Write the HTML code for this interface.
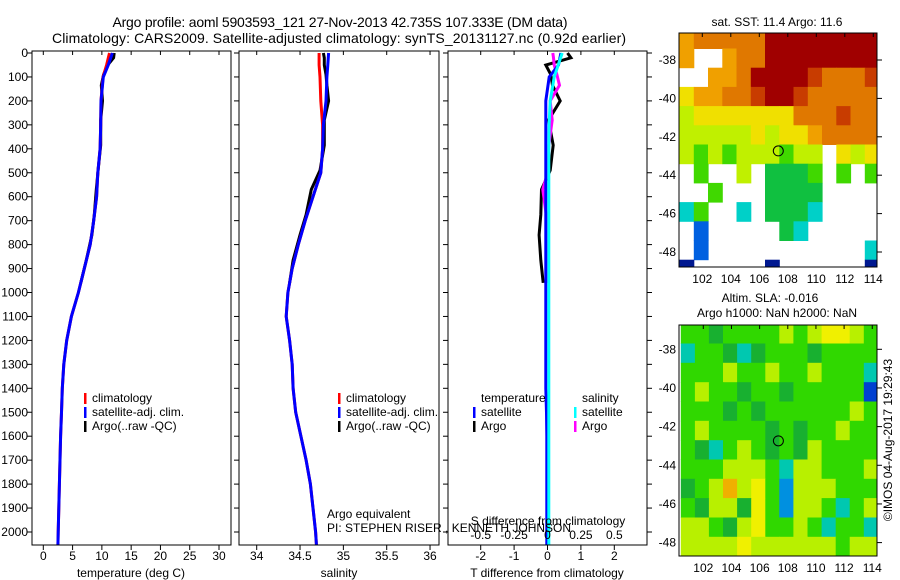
<!DOCTYPE html>
<html><head><meta charset="utf-8"><style>
html,body{margin:0;padding:0;background:#fff;}
svg{display:block;font-family:"Liberation Sans",Arial,sans-serif;}
</style></head><body>
<svg id="fig" width="900" height="580" viewBox="0 0 900 580" xmlns="http://www.w3.org/2000/svg">
<text x="340" y="27" font-size="14" text-anchor="middle" textLength="455">Argo profile: aoml 5903593_121 27-Nov-2013 42.735S 107.333E (DM data)</text>
<text x="339" y="43" font-size="14" text-anchor="middle" textLength="574">Climatology: CARS2009. Satellite-adjusted climatology: synTS_20131127.nc (0.92d earlier)</text>
<g id="plots"></g>
</svg>
<script>
// ---- profile data ----
const depthT = [0,50,100,200,300,400,500,600,700,800,900,1000,1100,1200,1300,1400,1500,1600,1700,1800,1900,2000,2058];
const tempSat = [11.8,11.1,10.25,9.85,9.8,9.7,9.3,9.1,8.6,8.0,7.0,6.0,4.8,4.0,3.5,3.25,3.1,2.95,2.85,2.75,2.65,2.55,2.5];
const tempClim = [11.3,10.8,10.2,9.85,9.8,9.7,9.3,9.1,8.6,8.0,7.0,6.0,4.8,4.0,3.5,3.25,3.1,2.95,2.85,2.75,2.65,2.55,2.5];
const depthArgo = [0,20,50,90,135,200,280,385,490,570,675,760,865,960];
const tempArgo = [12.1,12.0,11.0,10.3,9.9,10.1,9.8,9.8,9.35,9.05,8.7,8.3,7.35,6.4];
const salSat = [34.83,34.82,34.81,34.80,34.77,34.76,34.74,34.65,34.56,34.48,34.41,34.36,34.34,34.38,34.41,34.42,34.45,34.51,34.57,34.62,34.65,34.68,34.69];
const salClim = [34.72,34.72,34.73,34.74,34.76,34.76,34.74,34.65,34.56,34.48,34.41,34.36,34.34,34.38,34.41,34.42,34.45,34.51,34.57,34.62,34.65,34.68,34.69];
const salArgo = [34.77,34.78,34.78,34.80,34.81,34.83,34.78,34.78,34.73,34.63,34.57,34.50,34.42,34.38];
// difference panel
const dTsat = [0.4,0.33,0.05,-0.05,-0.05,-0.05,-0.05,-0.05,-0.05,-0.05,-0.05,-0.05,-0.05,-0.05,-0.05,-0.05,-0.03,-0.02,-0.02,-0.02,-0.02,-0.02,-0.02];
const dTargo = [0.6,0.7,-0.05,0.1,0.15,0.38,0.03,0.17,0.08,-0.18,-0.2,-0.25,-0.2,-0.13];
const dSsat = [0.11,0.08,0.05,0.02,0.012,0.01,0.01,0.01,0.01,0.01,0.01,0.01,0.01,0.01,0.01,0.01,0.01,0.01,0.01,0.01,0.01,0.01,0.01];
const dSargo = [0.04,0.045,0.05,0.07,0.09,0.02,0.035,0.01,0.005,-0.035,-0.01,-0.01,-0.01,-0.005];
const depthTicks = [0,100,200,300,400,500,600,700,800,900,1000,1100,1200,1300,1400,1500,1600,1700,1800,1900,2000];
const tempTicks = [0,5,10,15,20,25,30];
const salTicks = [34,34.5,35,35.5,36];
const dTTicks = [-2,-1,0,1,2];
const dSTicks = [-0.5,-0.25,0,0.25,0.5];
// ---- map data (1 deg cells) ----
const sstRows = [
"oOOOOORRRRRRRR",
"o..oOORRRRRRRR",
"..ooORRRRrOOOr",
"YooOOrRRrOOOOO",
"yYYYYYYYOOOrOO",
"yyyyyYyYYoOOOO",
"yGyGyyyGyy.YyY",
".G..y.gggG.G.G",
"..G...gggg....",
"cG..c.gggc....",
".b.....gc.....",
".b...........c",
"n.....n......n"];
const slaRows = [
"GGgGGGGyGyYYyG",
"cGGgcgGGGgGGGG",
"GGGyGGyGGyGGGc",
"GyGGgGGgGGGGGB",
"GGGgGgGGGGGGyG",
"GyGGGGgGgGGyGG",
"GgcGyGgGgyGGGG",
"GGGyyyGcyyGGGy",
"gGyoyYGbyyyGGG",
"GgyygYGbyyGcGy",
"yyGgyYGGyGcGGc",
"yyyyYyyyyyyGyy"];
const latTicks = [-38,-40,-42,-44,-46,-48];
const lonTicks = [102,104,106,108,110,112,114];
const argoLon = 107.333, argoLat = -42.735;

const NS="http://www.w3.org/2000/svg";
const root=document.getElementById('plots');
function mk(tag,attrs,parent){const e=document.createElementNS(NS,tag);for(const k in attrs)e.setAttribute(k,attrs[k]);(parent||root).appendChild(e);return e;}
function txt(x,y,s,size,anchor,parent){const t=mk('text',{x:x,y:y,'font-size':size,'text-anchor':anchor||'middle'},parent);t.textContent=s;return t;}

const yD = d => 53 + d*0.2395;
const panels = [
 {x0:32,x1:231,name:'temperature-panel'},
 {x0:239,x1:439,name:'salinity-panel'},
 {x0:448,x1:647,name:'difference-panel'}];
const xT = v => 43.3 + v*5.857;
const xS = v => 256.7 + (v-34)*86.67;
const xdT = v => 547.5 + v*33.4;
const xdS = v => 547.5 + v*133.6;

function line(xs,ds,fn,color,w,name,parent){
  let p='';
  for(let i=0;i<xs.length;i++){p+=(i?'L':'M')+fn(xs[i]).toFixed(1)+' '+yD(ds[i]).toFixed(1);}
  const e=mk('path',{d:p,fill:'none',stroke:color,'stroke-width':w,'stroke-linejoin':'miter'},parent);
  
  
  return e;
}

panels.forEach((pn,pi)=>{
  const g=mk('g',{});
  
  
  const clip=mk('clipPath',{id:'c'+pi},g);
  mk('rect',{x:pn.x0,y:51,width:pn.x1-pn.x0,height:494},clip);
  const data=mk('g',{'clip-path':'url(#c'+pi+')'},g);
  if(pi===0){
    line(tempArgo,depthArgo,xT,'#000',3,'argo-temperature-line',data);
    line(tempClim,depthT,xT,'#f00',3,'climatology-temperature-line',data);
    line(tempSat,depthT,xT,'#00f',3,'satellite-temperature-line',data);
  } else if(pi===1){
    line(salArgo,depthArgo,xS,'#000',3,'argo-salinity-line',data);
    line(salClim,depthT,xS,'#f00',3,'climatology-salinity-line',data);
    line(salSat,depthT,xS,'#00f',3,'satellite-salinity-line',data);
  } else {
    line(dTargo,depthArgo,xdT,'#000',3,'argo-t-diff-line',data);
    line(dSargo,depthArgo,xdS,'#f0f',3,'argo-s-diff-line',data);
    line(dTsat,depthT,xdT,'#00f',3,'satellite-t-diff-line',data);
    line(dSsat,depthT,xdS,'#0ff',3,'satellite-s-diff-line',data);
  }
  mk('rect',{x:pn.x0,y:51,width:pn.x1-pn.x0,height:494,fill:'none',stroke:'#000','stroke-width':1},g);
  depthTicks.forEach(d=>{
    mk('line',{x1:pn.x0-5,x2:pn.x0,y1:yD(d),y2:yD(d),stroke:'#000'},g);
    if(pi===2) mk('line',{x1:pn.x1,x2:pn.x1+5,y1:yD(d),y2:yD(d),stroke:'#000'},g);
    if(pi===0){const t=txt(28,yD(d)+4,String(d),12,'end',g);
      
      }
  });
});
function xticks(vals,fn,y,labelY,name){
  vals.forEach(v=>{
    mk('line',{x1:fn(v),x2:fn(v),y1:545,y2:550,stroke:'#000'});
    mk('line',{x1:fn(v),x2:fn(v),y1:51,y2:55,stroke:'#000'});
    const t=txt(fn(v),labelY,String(v),12,'middle');
    
    
  });
}
xticks(tempTicks,xT,545,560,'temperature-tick-label');
xticks(salTicks,xS,545,560,'salinity-tick-label');
xticks(dTTicks,xdT,545,560,'t-diff-tick-label');
dSTicks.forEach(v=>{
  const t=txt(xdS(v),539,String(v),12,'middle');
  
  
});
[[131,'temperature (deg C)','x-axis-title-temperature'],[339,'salinity','x-axis-title-salinity'],[547,'T difference from climatology','x-axis-title-t-diff']].forEach(a=>{
  const t=txt(a[0],577,a[1],12,'middle');
  
  
});
{const t=txt(548,525,'S difference from climatology',12,'middle');
 
 }
{const t=txt(327,518,'Argo equivalent',12,'start');
 
 
 const t2=txt(327,532,'PI: STEPHEN RISER , KENNETH JOHNSON',12,'start');
 
 }
function legend(x,y,color,label){
  mk('rect',{x:x,y:y-9,width:2.5,height:11,fill:color});
  const t=txt(x+8,y,label,12,'start');
  
  
}
[[84,'#f00','climatology'],[84,'#00f','satellite-adj. clim.'],[84,'#000','Argo(..raw -QC)']].forEach((a,i)=>legend(a[0],402+i*14,a[1],a[2]));
[[338,'#f00','climatology'],[338,'#00f','satellite-adj. clim.'],[338,'#000','Argo(..raw -QC)']].forEach((a,i)=>legend(a[0],402+i*14,a[1],a[2]));
{const t=txt(481,402,'temperature',12,'start');
 const t2=txt(582,402,'salinity',12,'start');}
legend(473,416,'#00f','satellite');legend(473,430,'#000','Argo');
legend(574,416,'#0ff','satellite');legend(574,430,'#f0f','Argo');

const sstCol={R:'#a00000',r:'#c83c00',O:'#e07800',o:'#f0a000',Y:'#f0e000',y:'#c0f000',G:'#40d800',g:'#10c040',c:'#00d0c8',b:'#0060e0',n:'#001890'};
const slaCol={G:'#30d800',g:'#18b030',y:'#b8f000',Y:'#f0f000',o:'#f0b000',c:'#00c8b0',b:'#0090e0',B:'#0040d0'};
function map(m){
  const g=mk('g',{});
  
  
  const X=lon=>m.x102+(lon-102)*m.sx, Y=lat=>m.y38+(-38-lat)*m.sy;
  const clip=mk('clipPath',{id:m.name+'-clip'},g);
  mk('rect',{x:679,y:m.top,width:198,height:m.bot-m.top},clip);
  const cg=mk('g',{'clip-path':'url(#'+m.name+'-clip)'},g);
  m.rows.forEach((row,j)=>{
    for(let i=0;i<row.length;i++){
      const c=m.col[row[i]]; if(!c) continue;
      const lon=m.lon0+i, lat=m.lat0-j;
      const x=X(lon), y=Y(lat);
      const r=mk('rect',{x:x.toFixed(1),y:y.toFixed(1),width:(m.sx+0.5).toFixed(1),height:(m.sy+0.5).toFixed(1),fill:c},cg);
      
      
    }
  });
  mk('rect',{x:679,y:m.top,width:198,height:m.bot-m.top,fill:'none',stroke:'#000'},g);
  latTicks.forEach(l=>{
    mk('line',{x1:877,x2:882,y1:Y(l),y2:Y(l),stroke:'#000'},g);
    const t=txt(676,Y(l)+4,String(l),12,'end',g);
    
    
  });
  lonTicks.forEach(l=>{
    mk('line',{x1:X(l),x2:X(l),y1:m.top,y2:m.top+4,stroke:'#000'},g);
    const t=txt(X(l),m.bot+16,String(l),12,'middle',g);
    
    
  });
  const c=mk('circle',{cx:X(argoLon),cy:Y(argoLat),r:5,fill:'none',stroke:'#000'},g);
  
  
}
map({name:'sst-map',rows:sstRows,col:sstCol,x102:702.3,sx:14.25,y38:60,sy:19.2,top:33,bot:267,lon0:100.4,lat0:-36.4});
map({name:'sla-map',rows:slaRows,col:slaCol,x102:703.3,sx:14.08,y38:349.3,sy:19.33,top:325,bot:556,lon0:100.4,lat0:-36.7});
{const t=txt(777,26,'sat. SST: 11.4  Argo: 11.6',12,'middle');
 const t2=txt(770,302,'Altim. SLA: -0.016',12,'middle');
 const t3=txt(777,317,'Argo h1000: NaN h2000: NaN',12,'middle');
 const t4=txt(0,0,'©IMOS 04-Aug-2017 19:29:43',12,'middle');t4.setAttribute('transform','translate(892,440) rotate(-90)');
 }
</script>
</body></html>
